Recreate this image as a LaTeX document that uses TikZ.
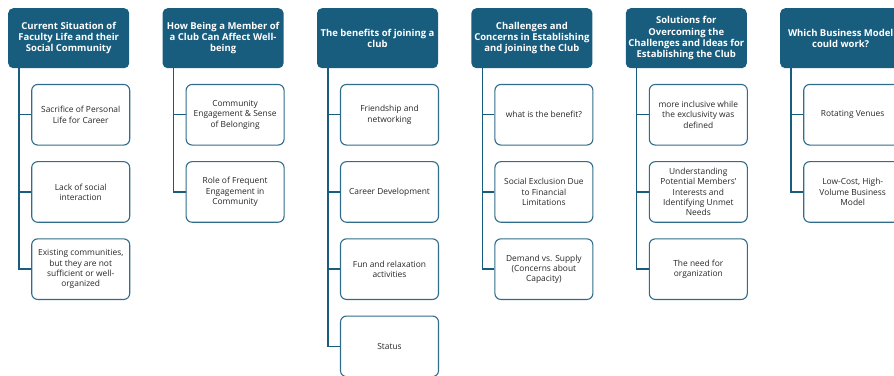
\documentclass[tikz,border=0pt]{standalone}
\usepackage{fontspec}
\setmainfont{Open Sans}
\usetikzlibrary{positioning}
\definecolor{clubteal}{RGB}{24,93,126}
\definecolor{bodygray}{RGB}{40,40,40}

\begin{document}
\begin{tikzpicture}[x=1pt, y=1pt, node distance=15.5pt and 33pt,
  head/.style={rectangle, rounded corners=5pt, fill=clubteal, text=white,
               minimum width=121pt, minimum height=60pt, inner sep=2pt,
               align=center, font=\fontsize{9.5}{11.3}\selectfont\bfseries},
  item/.style={rectangle, rounded corners=6pt, draw=clubteal!90, line width=1.1pt,
               fill=white, text=bodygray, minimum width=98pt, minimum height=60.6pt,
               inner sep=2pt, align=center, font=\fontsize{8.4}{10.2}\selectfont},
  link/.style={draw=clubteal, line width=1.4pt}
]
  \useasboundingbox (0,0) rectangle (894,-375);
  \clip (0,0) rectangle (894,-375);

  % column headers
  \node[head, anchor=north west] (h1) at (8,-8)
    {Current Situation of\\Faculty Life and their\\Social Community};
  \node[head, right=of h1] (h2) {How Being a Member of\\a Club Can Affect Well-\\being};
  \node[head, right=of h2] (h3) {The benefits of joining a\\club};
  \node[head, right=of h3] (h4) {Challenges and\\Concerns in Establishing\\and joining the Club};
  \node[head, right=of h4] (h5)
    {Solutions for\\Overcoming the\\Challenges and Ideas for\\Establishing the Club};
  \node[head, right=of h5] (h6) {Which Business Model\\could work?};

  % items under each header
  \node[item, below=of h1, xshift=12pt] (c11) {Sacrifice of Personal\\Life for Career};
  \node[item, below=of c11] (c12) {Lack of social\\interaction};
  \node[item, below=of c12] (c13)
    {Existing communities,\\but they are not\\sufficient or well-\\organized};

  \node[item, below=of h2, xshift=12pt] (c21) {Community\\Engagement \& Sense\\of Belonging};
  \node[item, below=of c21] (c22) {Role of Frequent\\Engagement in\\Community};

  \node[item, below=of h3, xshift=12pt] (c31) {Friendship and\\networking};
  \node[item, below=of c31] (c32) {Career Development};
  \node[item, below=of c32] (c33) {Fun and relaxation\\activities};
  \node[item, below=of c33] (c34) {Status};

  \node[item, below=of h4, xshift=12pt] (c41) {what is the benefit?};
  \node[item, below=of c41] (c42) {Social Exclusion Due\\to Financial\\Limitations};
  \node[item, below=of c42] (c43) {Demand vs. Supply\\(Concerns about\\Capacity)};

  \node[item, below=of h5, xshift=12pt] (c51)
    {more inclusive while\\the exclusivity was\\defined};
  \node[item, below=of c51] (c52)
    {Understanding\\Potential Members'\\Interests and\\Identifying Unmet\\Needs};
  \node[item, below=of c52] (c53) {The need for\\organization};

  \node[item, below=of h6, xshift=12pt] (c61) {Rotating Venues};
  \node[item, below=of c61] (c62) {Low-Cost, High-\\Volume Business\\Model};

  % tree lines
  \foreach \h/\kids in {h1/{c11,c12,c13}, h2/{c21,c22}, h3/{c31,c32,c33,c34},
                        h4/{c41,c42,c43}, h5/{c51,c52,c53}, h6/{c61,c62}}
    \foreach \c in \kids
      \draw[link] ([xshift=11pt]\h.south west) |- (\c.west);
\end{tikzpicture}
\end{document}
